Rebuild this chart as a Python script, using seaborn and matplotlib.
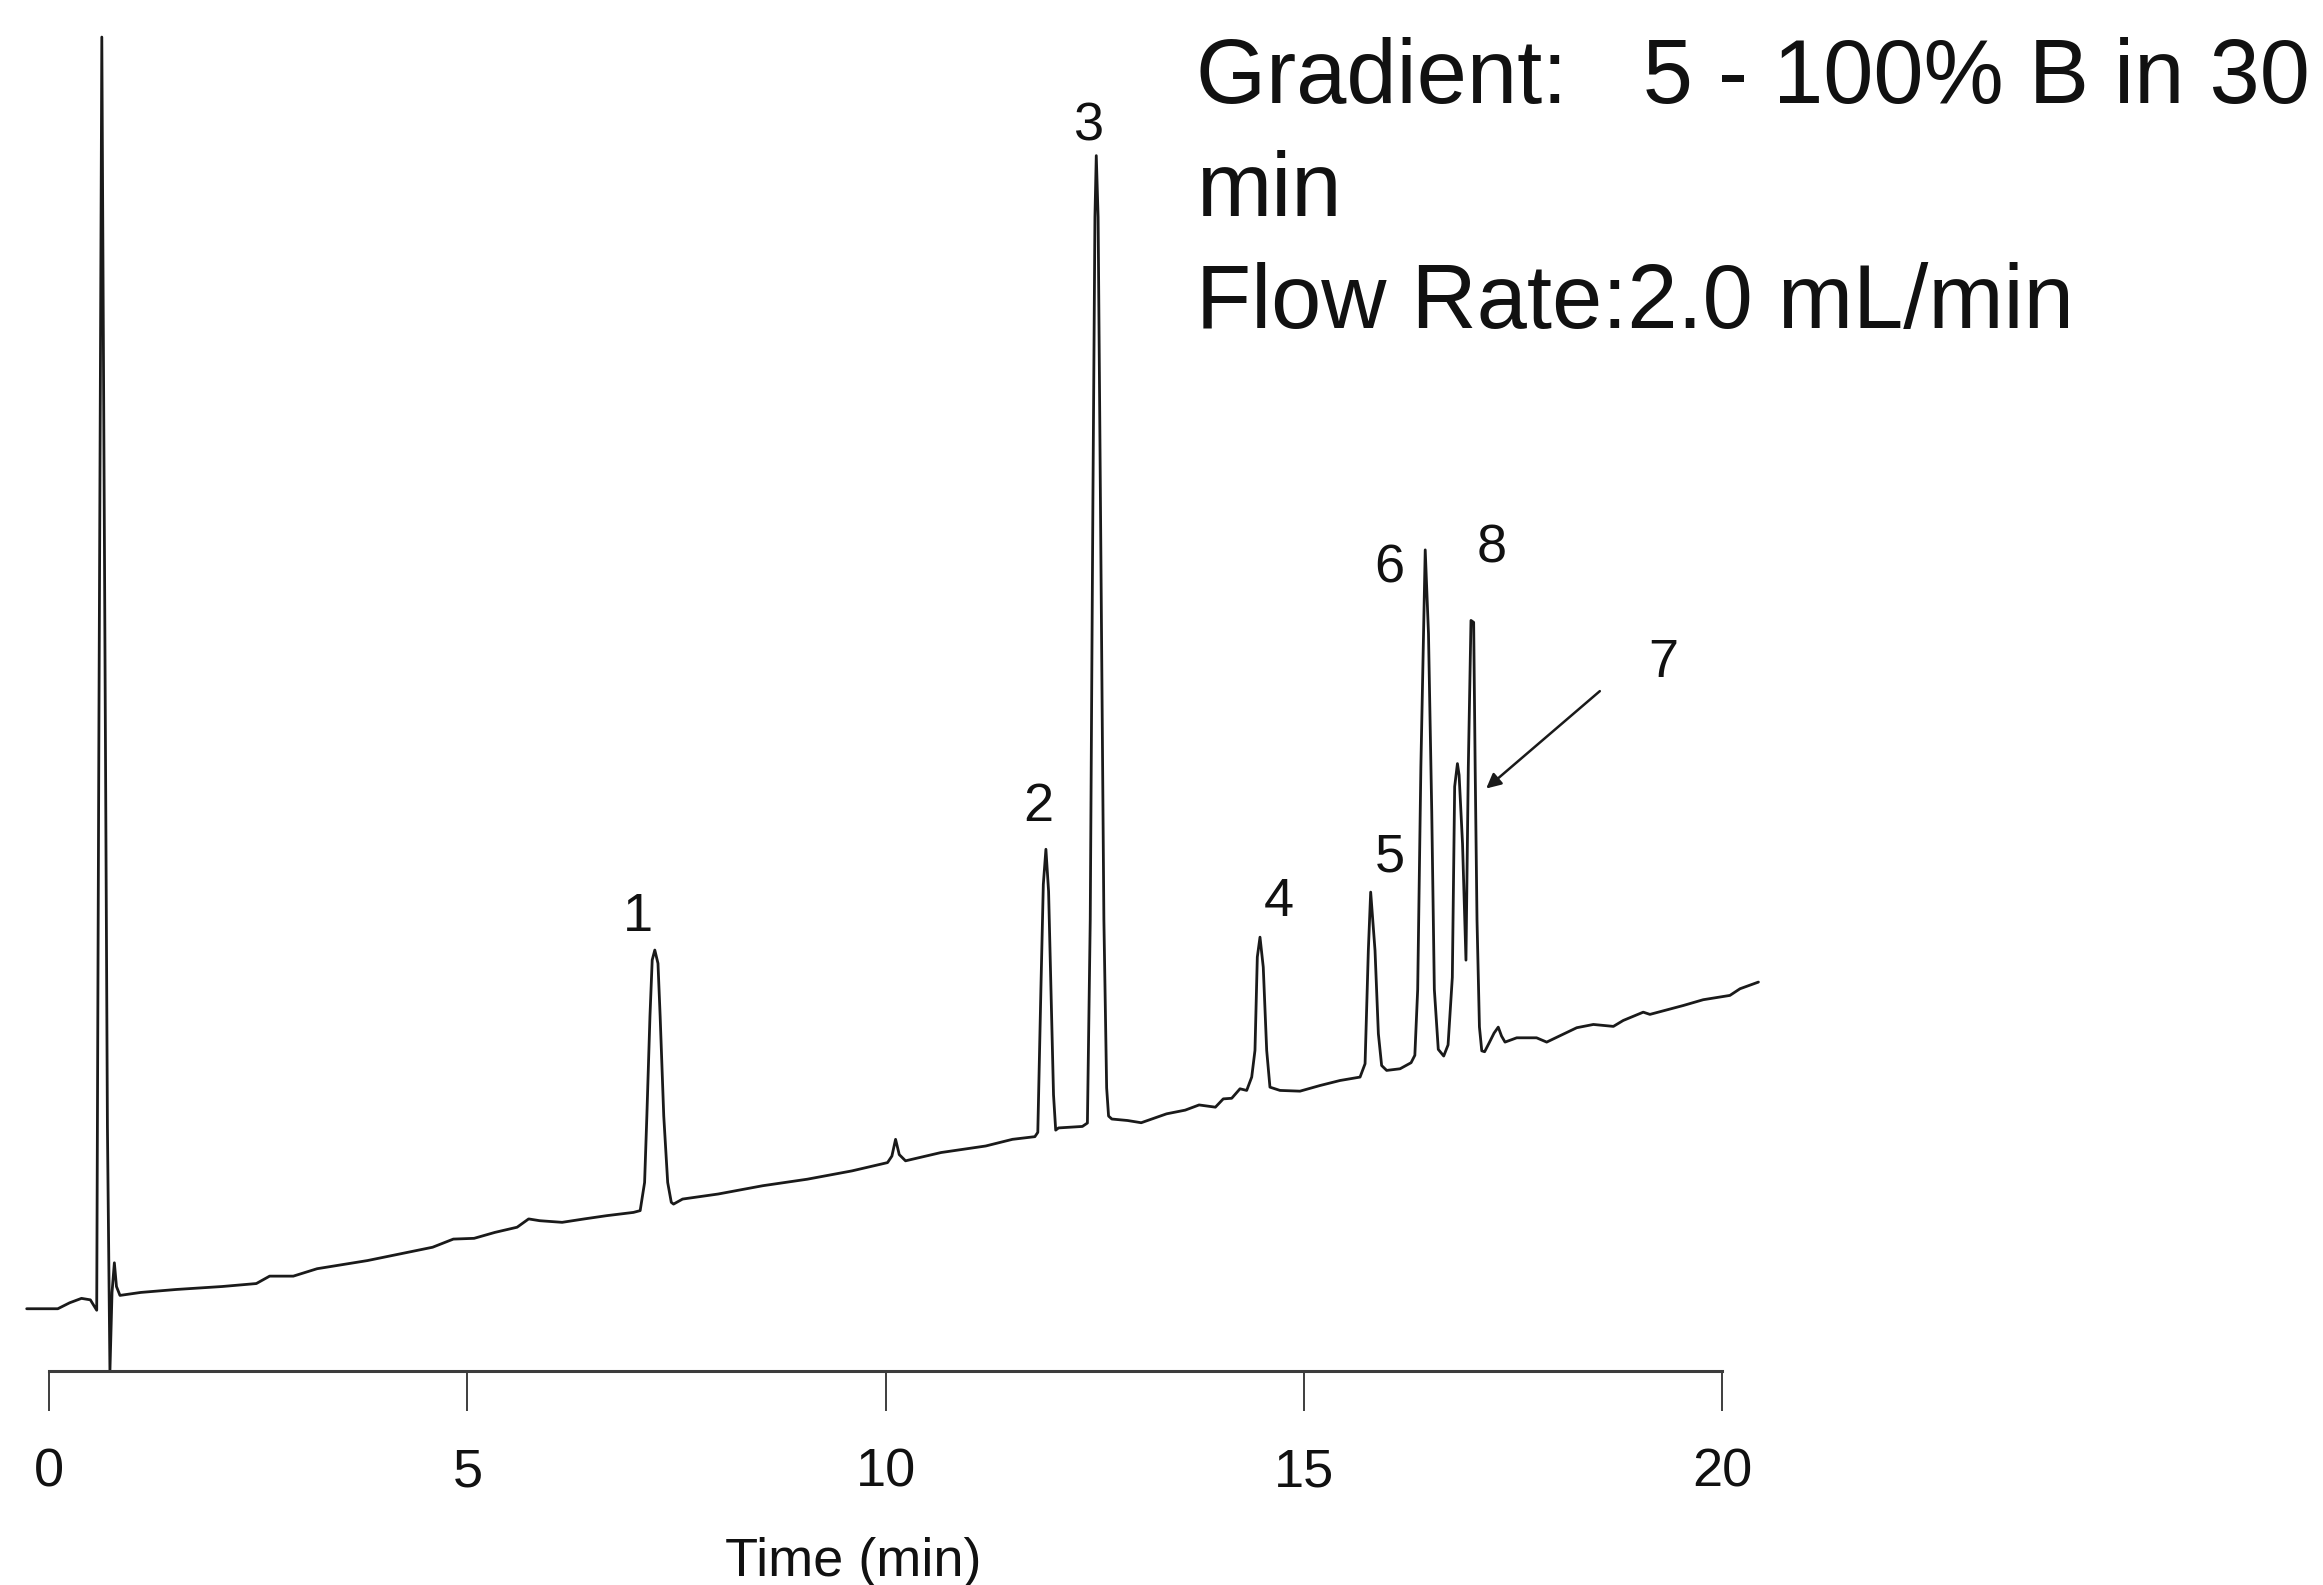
import matplotlib
matplotlib.use("Agg")
import matplotlib.pyplot as plt
import matplotlib.transforms as mtransforms
import numpy as np
import pandas as pd
import seaborn as sns

# Chromatogram trace: retention time (min) and detector signal (mV)
time_min = [
    -0.269, 0.103, 0.244, 0.386, 0.492, 0.568, 0.595, 0.629, 0.662, 0.696,
    0.726, 0.751, 0.779, 0.804, 0.846, 1.094, 1.519, 2.068, 2.476, 2.635,
    2.918, 3.202, 3.804, 4.193, 4.583, 4.831, 5.079, 5.327, 5.593, 5.731,
    5.863, 6.131, 6.396, 6.664, 6.984,
    7.064, 7.117, 7.144, 7.181, 7.208, 7.239, 7.277, 7.303, 7.346, 7.393,
    7.436, 7.463, 7.571, 7.996, 8.529, 9.062, 9.595, 10.021, 10.073, 10.117,
    10.161, 10.236, 10.661, 11.194, 11.514, 11.782,
    11.817, 11.854, 11.883, 11.914, 11.946, 11.975, 12.005, 12.031, 12.065, 12.198,
    12.350,
    12.410, 12.444, 12.476, 12.500, 12.516, 12.538, 12.566, 12.607, 12.640, 12.663,
    12.702, 12.890, 13.053, 13.356, 13.579, 13.745, 13.940, 14.034, 14.135, 14.234,
    14.314,
    14.374, 14.413, 14.441, 14.473, 14.512, 14.553, 14.592, 14.712, 14.951, 15.190,
    15.430, 15.669,
    15.729, 15.768, 15.796, 15.848, 15.888, 15.927, 15.987, 16.147, 16.279,
    16.324, 16.358, 16.396, 16.448, 16.487, 16.526, 16.557, 16.604, 16.669, 16.721,
    16.772, 16.800, 16.833, 16.853, 16.894, 16.935,
    16.963, 16.995, 17.027, 17.045, 17.067, 17.096, 17.124, 17.158, 17.209, 17.271,
    17.321, 17.360, 17.402, 17.542, 17.779, 17.900, 18.259, 18.458, 18.697, 18.815,
    19.054, 19.134, 19.533, 19.771, 20.090, 20.211, 20.431,
]
signal_mv = [
    42, 42, 46, 49, 48, 41, 445, 900, 545, 165,
    0, 53, 73, 57, 51, 53, 55, 57, 59, 64,
    64, 69, 74.5, 79, 83.5, 89, 89.5, 93.5, 97, 102.6,
    101.4, 100.3, 102.6, 104.8, 107,
    108.2, 127.2, 172, 239.2, 277.3, 284, 275, 239.2, 172, 127.2,
    113.8, 112.6, 116, 119.4, 125, 129.4, 135, 140.6, 145, 156.3,
    146, 141.8, 147.4, 151.8, 156.3, 158.1,
    161, 257.3, 328.3, 352, 323.6, 257.3, 186.3, 162.5, 164, 164.5,
    165,
    167.3, 304.6, 589, 778.5, 820, 778.5, 589, 304.6, 191, 172,
    170, 169, 167.5, 173.5, 176, 179.5, 178, 183.6, 184, 190.4,
    189.3,
    198.3, 216.3, 279.3, 292.7, 272.5, 216.3, 191.5, 189.3, 188.8, 192.6,
    196, 198.3,
    207.3, 283.7, 323.1, 283.7, 227.5, 206.1, 202.8, 203.9, 208,
    213, 257.5, 407.5, 554, 497.5, 377.5, 257.5, 217, 212.5, 220,
    265.6, 394.3, 409.8, 402.1, 355.7, 277.2,
    407.2, 506.4, 505.1, 407.2, 304.2, 232.1, 216, 215.4, 221, 228,
    232, 226, 221.9, 224.8, 224.8, 221.9, 231.6, 233.8, 232.5, 236.5,
    242.1, 240.6, 246.6, 250.5, 253.4, 257.9, 262.4,
]

# Peak numbers and where their labels sit (time, signal)
peak_labels = ["1", "2", "3", "4", "5", "6", "8", "7"]
label_time = [7.037, 11.826, 12.435, 14.693, 16.023, 16.023, 17.239, 19.299]
label_signal = [296.7, 371.2, 830.2, 307.0, 337.2, 532.2, 545.2, 468.2]

# Arrow pointing from the "7" label to its shoulder peak
arrow_start = (18.535, 458.7)
arrow_end = (17.177, 393.0)

tick_values = [0, 5, 10, 15, 20]
tick_labels = ["0", "5", "10", "15", "20"]

method_lines = ["Gradient:   5 - 100% B in 30", "min", "Flow Rate:2.0 mL/min"]

df = pd.DataFrame({"time_min": time_min, "signal_mv": signal_mv})

sns.set_theme(style="white")
plt.rcParams["font.family"] = ["Liberation Sans", "DejaVu Sans"]

fig = plt.figure(figsize=(23.23, 15.85), dpi=100)
fig.patch.set_facecolor("white")
ax = fig.add_axes([0.001369, 0.13502, 0.77609, 0.86498])
ax.set_facecolor("white")

sns.lineplot(data=df, x="time_min", y="signal_mv", estimator=None, sort=False,
             color="#1a1a1a", linewidth=2.0, ax=ax)

ax.set_xlim(-0.55, 21.0)
ax.set_ylim(0, 925)

for s in ("top", "right", "left"):
    ax.spines[s].set_visible(False)
ax.spines["bottom"].set_bounds(0, 20)
ax.spines["bottom"].set_color("#3c3c3c")
ax.spines["bottom"].set_linewidth(2.2)

ax.set_xticks(tick_values)
ax.set_xticklabels(tick_labels)
ax.set_yticks([])
ax.tick_params(axis="x", direction="out", length=28.8, width=1.2, color="#1e1e1e",
               pad=26.5, labelsize=39, labelcolor="#111111", bottom=True)
ax.set_ylabel("")

ax.set_xlabel("Time (min)", fontsize=39, color="#111111", va="baseline")
ax.xaxis.set_label_coords(
    9.615, 0.0057,
    transform=mtransforms.blended_transform_factory(ax.transData, fig.transFigure))

for lab, tx, ty in zip(peak_labels, label_time, label_signal):
    ax.text(tx, ty, lab, fontsize=39, ha="center", va="baseline", color="#111111")

ax.annotate("", xy=arrow_end, xytext=arrow_start,
            arrowprops=dict(arrowstyle="-|>", color="#1a1a1a", lw=1.8,
                            mutation_scale=22, shrinkA=0, shrinkB=0))

for line, yb in zip(method_lines, [0.9350, 0.8640, 0.7931]):
    fig.text(0.5149, yb, line, fontsize=65, ha="left", va="baseline", color="#111111")

fig.savefig("out.png", dpi=100, facecolor="white")
